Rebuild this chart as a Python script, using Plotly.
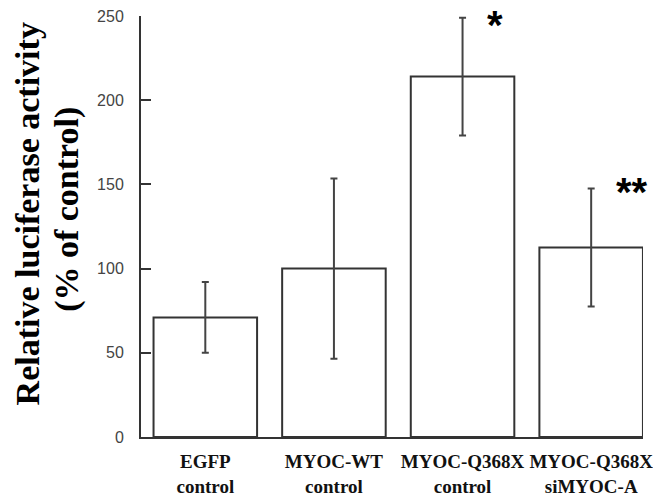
import plotly.graph_objects as go

categories = ["EGFP<br>control", "MYOC-WT<br>control", "MYOC-Q368X<br>control", "MYOC-Q368X<br>siMYOC-A"]
values = [71, 100, 214, 112.5]
errors = [21, 53.5, 35, 35]
stars = ["", "", "*", "**"]
yticks = [0, 50, 100, 150, 200, 250]
title_lines = ["Relative luciferase activity", "(% of control)"]

xpos = list(range(len(categories)))

fig = go.Figure()
fig.add_trace(go.Bar(
    x=xpos, y=values, width=0.805,
    marker=dict(color="white", line=dict(color="#333333", width=2)),
    error_y=dict(type="data", array=errors, visible=True, color="#444444", thickness=2, width=3.5),
))

shifts = {2: (32, -7), 3: (41, -3)}
for i, s in enumerate(stars):
    if s:
        dx, dy = shifts[i]
        fig.add_annotation(x=xpos[i], y=values[i] + errors[i], xref="x", yref="y", text=s,
                           showarrow=False, xshift=dx, yshift=dy,
                           xanchor="center", yanchor="middle",
                           font=dict(family="Liberation Sans", size=40, color="black", weight="bold"))

for j, (line, xp, yp) in enumerate(zip(title_lines, [-0.226, -0.149], [0.53, 0.54])):
    fig.add_annotation(xref="paper", yref="paper", x=xp, y=yp, textangle=-90,
                       text=line, showarrow=False, xanchor="center", yanchor="middle",
                       font=dict(family="Liberation Serif", size=34, color="black", weight="bold"))

# page body has an 8px margin, so the figure is sized to fit the 661x500 window
fig.update_layout(
    width=653, height=492,
    margin=dict(l=133, r=18, t=8, b=62.5, autoexpand=False),
    paper_bgcolor="white", plot_bgcolor="white",
    showlegend=False,
    xaxis=dict(range=[-0.5, 3.403], tickvals=xpos, ticktext=categories, automargin=False,
               tickangle=0,
               showline=True, linecolor="#333333", linewidth=2, ticks="",
               showgrid=False, zeroline=False, ticklabelstandoff=6, ticklabeloverflow="allow",
               tickfont=dict(family="Liberation Serif", size=19, color="#111111", weight="bold")),
    yaxis=dict(range=[0, 250], tickvals=yticks, showline=True, linecolor="#333333", linewidth=2,
               ticks="inside", ticklen=10, tickwidth=2, tickcolor="#333333", automargin=False,
               showgrid=False, zeroline=False, ticklabelstandoff=12, ticklabeloverflow="allow",
               tickfont=dict(family="Liberation Sans", size=16, color="#444444")),
)

fig.write_html("out.html")
